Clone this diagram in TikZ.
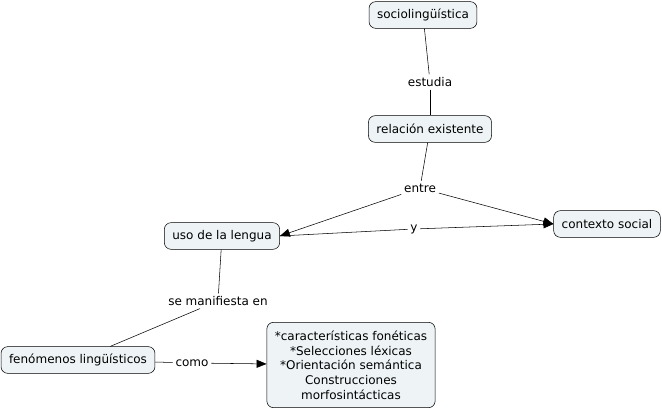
\documentclass[tikz,border=0pt]{standalone}
\usepackage{fontspec}
\setmainfont{DejaVu Sans}
\usetikzlibrary{arrows.meta,positioning}
\definecolor{cmapfill}{RGB}{238,244,246}
\tikzset{
  concept/.style={draw,rounded corners=5pt,fill=cmapfill,font=\fontsize{9}{11}\selectfont,
    inner xsep=6pt,minimum height=20pt,align=center},
  linkword/.style={font=\fontsize{9}{11}\selectfont,inner sep=2pt},
  tip/.style={-{Triangle[length=7.5pt,width=6pt]}}
}
\begin{document}
\begin{tikzpicture}[x=0.75pt,y=-0.75pt]
  \useasboundingbox (0,0) rectangle (662,409);
  \node[concept] (socio) at (423,15) {sociolingüística};
  \node[linkword] (estudia) at (430,82) {estudia};
  \node[concept] (relacion) at (430,129) {relación existente};
  \node[linkword] (entre) at (420,188) {entre};
  \node[concept] (uso) at (222,236) {uso de la lengua};
  \node[concept] (contexto) at (607,224) {contexto social};
  \node[linkword] (y) at (414,229) {y};
  \node[linkword] (manifiesta) at (218,301) {se manifiesta en};
  \node[concept] (fenomenos) at (78,360) {fenómenos lingüísticos};
  \node[linkword] (como) at (192,363) {como};
  \node[concept,minimum height=64pt] (rasgos) at (351,365) {*características fonéticas\\*Selecciones léxicas\\*Orientación semántica\\Construcciones\\morfosintácticas};

  \draw (socio) -- (estudia);
  \draw (estudia) -- (relacion);
  \draw (relacion) -- (entre);
  \draw[tip] (entre) -- (uso.east);
  \draw[tip] (entre) -- (contexto.west);
  \draw (uso.east) -- (y);
  \draw[tip] (y) -- (contexto.west);
  \draw (uso) -- (manifiesta);
  \draw (manifiesta) -- (fenomenos);
  \draw (fenomenos) -- (como);
  \draw[tip] (como) -- (rasgos);
\end{tikzpicture}
\end{document}
